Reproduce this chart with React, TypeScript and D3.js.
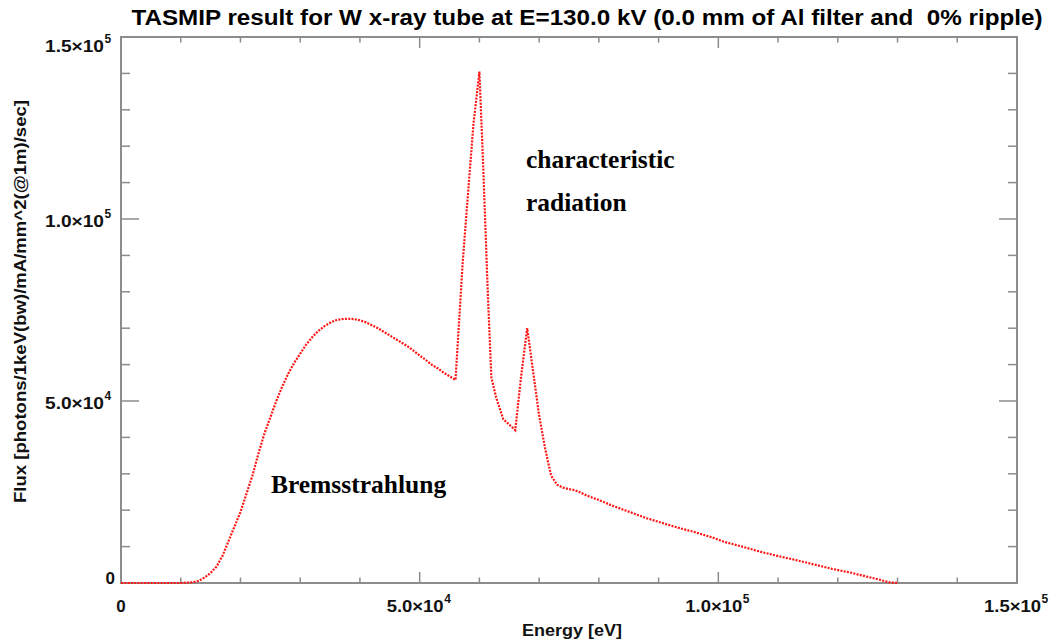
import React from "react";
import * as d3 from "d3";

const energyEv: number[] = [
  0, 5000, 10000, 12000, 13000, 14000, 15000, 16000, 17000, 18000, 19000, 20000,
  21000, 22000, 23000, 24000, 25000, 26000, 27000, 28000, 29000, 30000, 31000,
  32000, 33000, 34000, 35000, 36000, 37000, 38000, 39000, 40000, 41000, 42000,
  43000, 44000, 45000, 46000, 47000, 48000, 49000, 50000, 51000, 52000, 53000,
  54000, 55000, 56000, 57200, 58000, 59000, 60000, 60600, 61400, 62000, 62800,
  64000, 65000, 66000, 67000, 68000, 69000, 70000, 71000, 72000, 73000, 74000,
  75000, 76000, 77000, 78000, 80000, 82000, 85000, 88000, 90000, 93000, 96000,
  99000, 101000, 104000, 107000, 110000, 113000, 116000, 119000, 122000, 125000,
  127000, 128500, 130000,
];
const flux: number[] = [
  0, 0, 0, 200, 600, 1500, 2800, 4500, 7500, 11500, 15500, 19500,
  24500, 29500, 35500, 41000, 45500, 50000, 54000, 57500, 60500, 63000, 65500,
  67500, 69200, 70500, 71500, 72200, 72500, 72600, 72500, 72200, 71600, 70800,
  70000, 69000, 68000, 67000, 66000, 65000, 63800, 62500, 61300, 60000, 59000,
  57800, 56800, 55800, 88000, 105000, 126000, 140500, 116000, 80000, 56500, 51000,
  45000, 43500, 42000, 57000, 70000, 58000, 46000, 37000, 29500, 27000, 26200,
  25800, 25500, 24800, 24000, 22800, 21400, 19600, 17800, 16800, 15300, 14000,
  12500, 11300, 10000, 8600, 7400, 6300, 5100, 3900, 2900, 1700,
  900, 200, 0,
];
const xMajorTicks: number[] = [0, 50000, 100000, 150000];
const xTickLabels: [string, string][] = [["0", ""], ["5.0×10", "4"], ["1.0×10", "5"], ["1.5×10", "5"]];
const yMajorTicks: number[] = [0, 50000, 100000, 150000];
const yTickLabels: [string, string][] = [["0", ""], ["5.0×10", "4"], ["1.0×10", "5"], ["1.5×10", "5"]];
const minorStep = 10000;

const titleText = "TASMIP result for W x-ray tube at E=130.0 kV (0.0 mm of Al filter and  0% ripple)";
const xLabel = "Energy [eV]";
const yLabel = "Flux [photons/1keV(bw)/mA/mm^2(@1m)/sec]";
const annotations: { text: string; e: number; f: number }[] = [
  { text: "characteristic", e: 67800, f: 114000 },
  { text: "radiation", e: 67800, f: 102200 },
  { text: "Bremsstrahlung", e: 25100, f: 24600 },
];

const W = 1057, H = 643;
const L = 121, R = 1017, T = 37, B = 583;

export default function App() {
  const x = d3.scaleLinear().domain([0, 150000]).range([L, R]);
  const y = d3.scaleLinear().domain([0, 150000]).range([B, T]);
  const pts = energyEv.map((e, i) => [x(e), y(flux[i])] as [number, number]);
  const line = d3.line().curve(d3.curveLinear)(pts) || "";
  const minor = d3.range(0, 150001, minorStep);
  const axisColor = "#8c8c8c";
  const sans = "'Liberation Sans', Arial, sans-serif";
  const narrow = "'Liberation Sans Narrow', 'Liberation Sans', Arial, sans-serif";
  const serif = "'Liberation Serif', 'Times New Roman', serif";
  const xTickLen = 11, xMinorLen = 5.5, yTickLen = 18, yMinorLen = 9;

  return (
    <svg width={W} height={H} style={{ position: "absolute", left: 0, top: 0, background: "#fff" }}>
      <text x={587} y={25} textAnchor="middle" fontFamily={narrow} fontWeight="bold" fontSize={22}
        textLength={911} lengthAdjust="spacingAndGlyphs" fill="#000" xmlSpace="preserve">{titleText}</text>

      {minor.map((v) => {
        const major = v % 50000 === 0;
        const xl = major ? xTickLen : xMinorLen;
        const yl = major ? yTickLen : yMinorLen;
        return (
          <g key={v} stroke={axisColor} strokeWidth={1.5}>
            <line x1={x(v)} x2={x(v)} y1={B} y2={B - xl} />
            <line x1={x(v)} x2={x(v)} y1={T} y2={T + xl} />
            <line y1={y(v)} y2={y(v)} x1={L} x2={L + yl} />
            <line y1={y(v)} y2={y(v)} x1={R} x2={R - yl} />
          </g>
        );
      })}
      <rect x={L} y={T} width={R - L} height={B - T} fill="none" stroke={axisColor} strokeWidth={2} />

      <path d={line} fill="none" stroke="#ff1414" strokeWidth={2.2} strokeDasharray="2 1.3" />

      {xMajorTicks.map((v, i) => {
        const [main, sup] = xTickLabels[i];
        if (!sup) {
          return (
            <text key={v} x={x(v)} y={612} textAnchor="middle" fontFamily={sans} fontWeight="bold" fontSize={17} fill="#111">{main}</text>
          );
        }
        const cx = x(v) - 33;
        return (
          <g key={v} fontFamily={sans} fontWeight="bold" fill="#111">
            <text x={cx} y={612} fontSize={17} textLength={57} lengthAdjust="spacingAndGlyphs">{main}</text>
            <text x={cx + 57.5} y={603} fontSize={12}>{sup}</text>
          </g>
        );
      })}
      {yMajorTicks.map((v, i) => {
        const [main, sup] = yTickLabels[i];
        const base = i === 0 ? 584 : i === yMajorTicks.length - 1 ? 52 : y(v) + 8;
        if (!sup) {
          return (
            <text key={v} x={115} y={base} textAnchor="end" fontFamily={sans} fontWeight="bold" fontSize={17} fill="#111">{main}</text>
          );
        }
        return (
          <g key={v} fontFamily={sans} fontWeight="bold" fill="#111">
            <text x={45} y={base} fontSize={17} textLength={59} lengthAdjust="spacingAndGlyphs">{main}</text>
            <text x={104.5} y={base - 9} fontSize={12}>{sup}</text>
          </g>
        );
      })}

      <text x={572} y={636} textAnchor="middle" fontFamily={sans} fontWeight="bold" fontSize={17}
        textLength={100} lengthAdjust="spacingAndGlyphs" fill="#111">{xLabel}</text>
      <text transform="translate(26,301.5) rotate(-90)" textAnchor="middle" fontFamily={sans} fontWeight="bold" fontSize={16}
        textLength={403} lengthAdjust="spacingAndGlyphs" fill="#111">{yLabel}</text>

      {annotations.map((a) => (
        <text key={a.text} x={x(a.e)} y={y(a.f)} fontFamily={serif} fontWeight="bold" fontSize={25.5} fill="#000">{a.text}</text>
      ))}
    </svg>
  );
}
